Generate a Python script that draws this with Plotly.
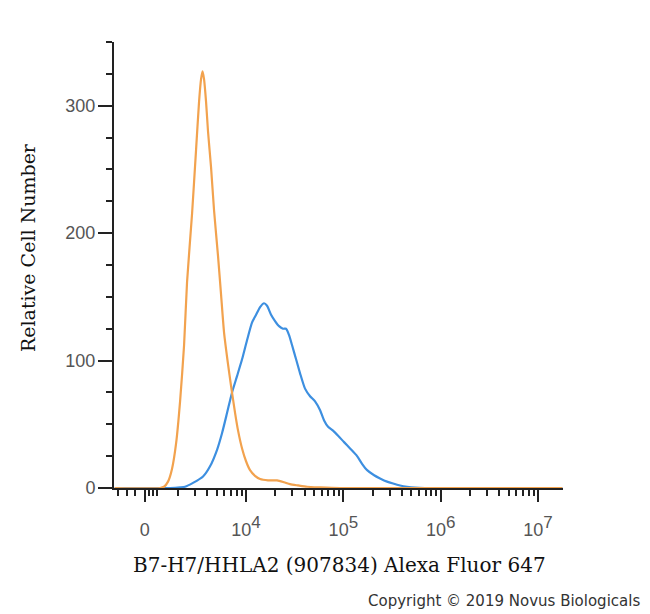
import numpy as np
import plotly.graph_objects as go

# x is the biexponential display position in decades (0 sits just under 10^3)
ISOTYPE_X = [2.65, 3.116, 3.157, 3.198, 3.239, 3.281, 3.322, 3.363, 3.394, 3.445, 3.486,
             3.517, 3.538, 3.553, 3.568, 3.589, 3.609, 3.640, 3.671, 3.712, 3.743,
             3.774, 3.815, 3.846, 3.887, 3.918, 3.959, 4.000, 4.041, 4.092, 4.144,
             4.226, 4.319, 4.391, 4.452, 4.534, 4.627, 4.761, 4.966, 7.25]
ISOTYPE_Y = [0, 0, 1, 5, 15, 35, 68, 112, 162, 215, 265,
             303, 321, 327, 321, 303, 280, 252, 218, 182, 152,
             122, 97, 80, 59, 45, 31, 21, 14, 9.5, 7,
             6, 6, 4.5, 3, 2, 1, 0.5, 0, 0]

STAINED_X = [2.65, 3.219, 3.322, 3.373, 3.455, 3.558, 3.630, 3.702, 3.753, 3.805, 3.856,
             3.908, 3.959, 4.010, 4.062, 4.103, 4.144, 4.185, 4.216, 4.257, 4.298,
             4.339, 4.380, 4.411, 4.442, 4.473, 4.514, 4.555, 4.606, 4.658, 4.709,
             4.761, 4.802, 4.843, 4.894, 4.946, 5.007, 5.069, 5.141, 5.192, 5.244,
             5.316, 5.377, 5.449, 5.511, 5.583, 5.655, 5.737, 5.840, 7.25]
STAINED_Y = [0, 0, 0.5, 1, 4, 9, 17, 30, 43, 59, 75,
             88, 101, 116, 130, 136, 142, 145, 143, 136, 131,
             127, 125, 125, 120, 112, 101, 90, 78, 72, 68,
             61, 53, 48, 45, 41, 36, 31, 25, 19, 14,
             10, 7.5, 5, 3.5, 2, 1, 0.3, 0, 0]

X_TICKVALS = [2.96, 4, 5, 6, 7]
X_TICKTEXT = ['0'] + ['10<sup><span style="font-size:17px">%d</span></sup>' % e for e in (4, 5, 6, 7)]
Y_TICKVALS = [0, 100, 200, 300]

# minor ticks: squeezed linear region around zero, then log decades
x_minor = [2.684, 2.777, 2.859, 3.0, 3.04, 3.08]
for dec in (3, 4, 5, 6):
    x_minor += [dec + np.log10(k) for k in range(2, 10)]

fig = go.Figure()

fig.add_trace(go.Scatter(
    x=STAINED_X, y=STAINED_Y, mode='lines',
    line=dict(color='#3d8fe0', width=2.2, shape='spline', smoothing=0.6),
    hoverinfo='skip',
))
fig.add_trace(go.Scatter(
    x=ISOTYPE_X, y=ISOTYPE_Y, mode='lines',
    line=dict(color='#f2a24e', width=2.2, shape='spline', smoothing=0.6),
    hoverinfo='skip',
))

tick_font = dict(family='Liberation Sans, Arial, sans-serif', size=18, color='#555555')
serif = 'DejaVu Serif, Liberation Serif, serif'

# page body has an 8px margin, so the figure is 8px smaller than the window
fig.update_layout(
    width=642, height=606,
    margin=dict(l=106, r=87, t=34, b=126),
    paper_bgcolor='white', plot_bgcolor='white',
    showlegend=False,
    xaxis=dict(
        range=[2.643, 7.257], showgrid=False, zeroline=False,
        showline=True, linecolor='#222222', linewidth=2,
        tickmode='array', tickvals=X_TICKVALS, ticktext=X_TICKTEXT,
        ticks='outside', ticklen=12, tickwidth=1.5, tickcolor='#222222',
        tickfont=tick_font, ticklabelstandoff=12,
        minor=dict(tickmode='array', tickvals=x_minor, ticks='outside',
                   ticklen=6, tickwidth=1.5, tickcolor='#222222', showgrid=False),
    ),
    yaxis=dict(
        range=[0, 350], showgrid=False, zeroline=False,
        showline=True, linecolor='#222222', linewidth=2,
        tickmode='array', tickvals=Y_TICKVALS,
        ticks='outside', ticklen=14, tickwidth=1.5, tickcolor='#222222',
        tickfont=tick_font, ticklabelstandoff=-1,
        minor=dict(dtick=25, tick0=0, ticks='outside', ticklen=6,
                   tickwidth=1.5, tickcolor='#222222', showgrid=False),
    ),
)

fig.add_annotation(
    text='B7-H7/HHLA2 (907834) Alexa Fluor 647',
    xref='paper', yref='paper', x=0.502, y=-0.173,
    xanchor='center', yanchor='middle', showarrow=False,
    font=dict(family=serif, size=20, color='#111111'),
)
fig.add_annotation(
    text='Relative Cell Number',
    xref='paper', yref='paper', x=-0.1915, y=0.538, textangle=-90,
    xanchor='center', yanchor='middle', showarrow=False,
    font=dict(family=serif, size=19, color='#111111'),
)
fig.add_annotation(
    text='Copyright © 2019 Novus Biologicals',
    xref='paper', yref='paper', x=1.176, y=-0.253,
    xanchor='right', yanchor='middle', showarrow=False,
    font=dict(family='DejaVu Sans, sans-serif', size=15, color='#333333'),
)

fig.write_html('out.html')
